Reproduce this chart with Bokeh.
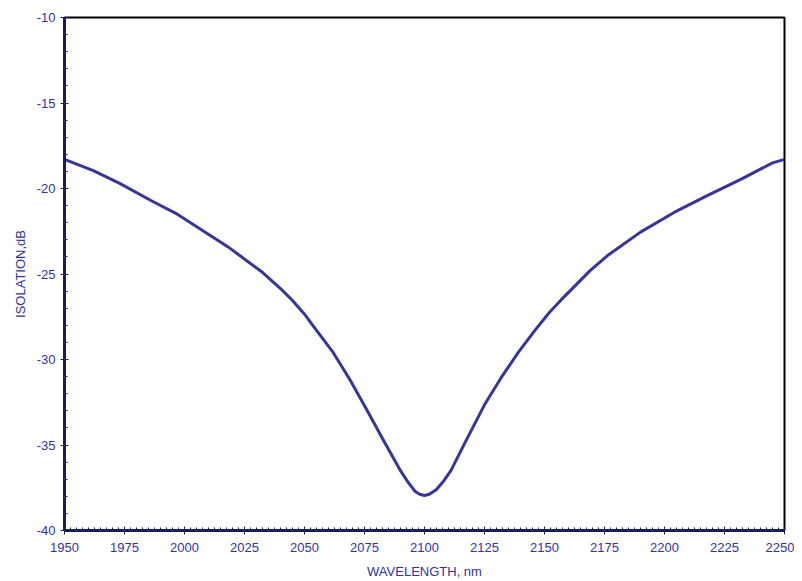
from bokeh.plotting import figure
from bokeh.models import Range1d, FixedTicker, PrintfTickFormatter
from bokeh.embed import file_html
from bokeh.resources import INLINE

wavelength = [1950, 1962, 1973, 1986, 1997, 2008, 2018, 2032, 2040, 2045, 2050, 2055,
              2062, 2069, 2076, 2083, 2090, 2093, 2096, 2098, 2100, 2102, 2105,
              2108, 2111, 2118, 2125, 2132, 2139, 2146, 2152, 2157, 2162, 2169, 2176,
              2190, 2204, 2218, 2232, 2245, 2250]
isolation = [-18.3, -18.95, -19.7, -20.7, -21.5, -22.5, -23.4, -24.85, -25.85, -26.55, -27.35, -28.3,
             -29.6, -31.2, -32.95, -34.75, -36.5, -37.15, -37.7, -37.88, -37.95, -37.88, -37.6,
             -37.1, -36.5, -34.55, -32.65, -31.05, -29.6, -28.3, -27.25, -26.5, -25.8, -24.8, -23.95,
             -22.55, -21.4, -20.4, -19.45, -18.5, -18.3]
x_ticks = [1950, 1975, 2000, 2025, 2050, 2075, 2100, 2125, 2150, 2175, 2200, 2225, 2250]
y_ticks = [-40, -35, -30, -25, -20, -15, -10]

navy = "#1c1c55"
label_col = "#33339c"

p = figure(width=794, height=581, output_backend="svg", toolbar_location=None,
           x_range=Range1d(1950, 2250), y_range=Range1d(-40, -10),
           min_border_left=64, min_border_right=10, min_border_top=17, min_border_bottom=51)

p.line(wavelength, isolation, line_color="#35359c", line_width=3, line_join="round")

p.grid.visible = False
p.outline_line_color = "black"
p.outline_line_width = 2

p.xaxis.ticker = FixedTicker(ticks=x_ticks, minor_ticks=[1950 + 2.5 * i for i in range(121)])
p.yaxis.ticker = FixedTicker(ticks=y_ticks, minor_ticks=list(range(-40, -9)))
p.yaxis.formatter = PrintfTickFormatter(format="%d")

for ax in (p.xaxis[0], p.yaxis[0]):
    ax.axis_line_color = navy
    ax.axis_line_width = 3
    ax.major_tick_line_color = navy
    ax.minor_tick_line_color = navy
    ax.major_tick_in = 4
    ax.major_tick_out = 4
    ax.minor_tick_in = 3
    ax.minor_tick_out = 0
    ax.major_label_text_font = "Liberation Sans"
    ax.major_label_text_font_size = "13px"
    ax.major_label_text_color = label_col
    ax.axis_label_text_font = "Liberation Sans"
    ax.axis_label_text_font_size = "13px"
    ax.axis_label_text_font_style = "normal"
    ax.axis_label_text_color = label_col

p.xaxis.axis_label = "WAVELENGTH, nm"
p.yaxis.axis_label = "ISOLATION,dB"
p.xaxis.major_label_standoff = 8
p.yaxis.major_label_standoff = 5
p.xaxis.axis_label_standoff = 9
p.yaxis.axis_label_standoff = 6

open("out.html", "w").write(file_html(p, INLINE))
